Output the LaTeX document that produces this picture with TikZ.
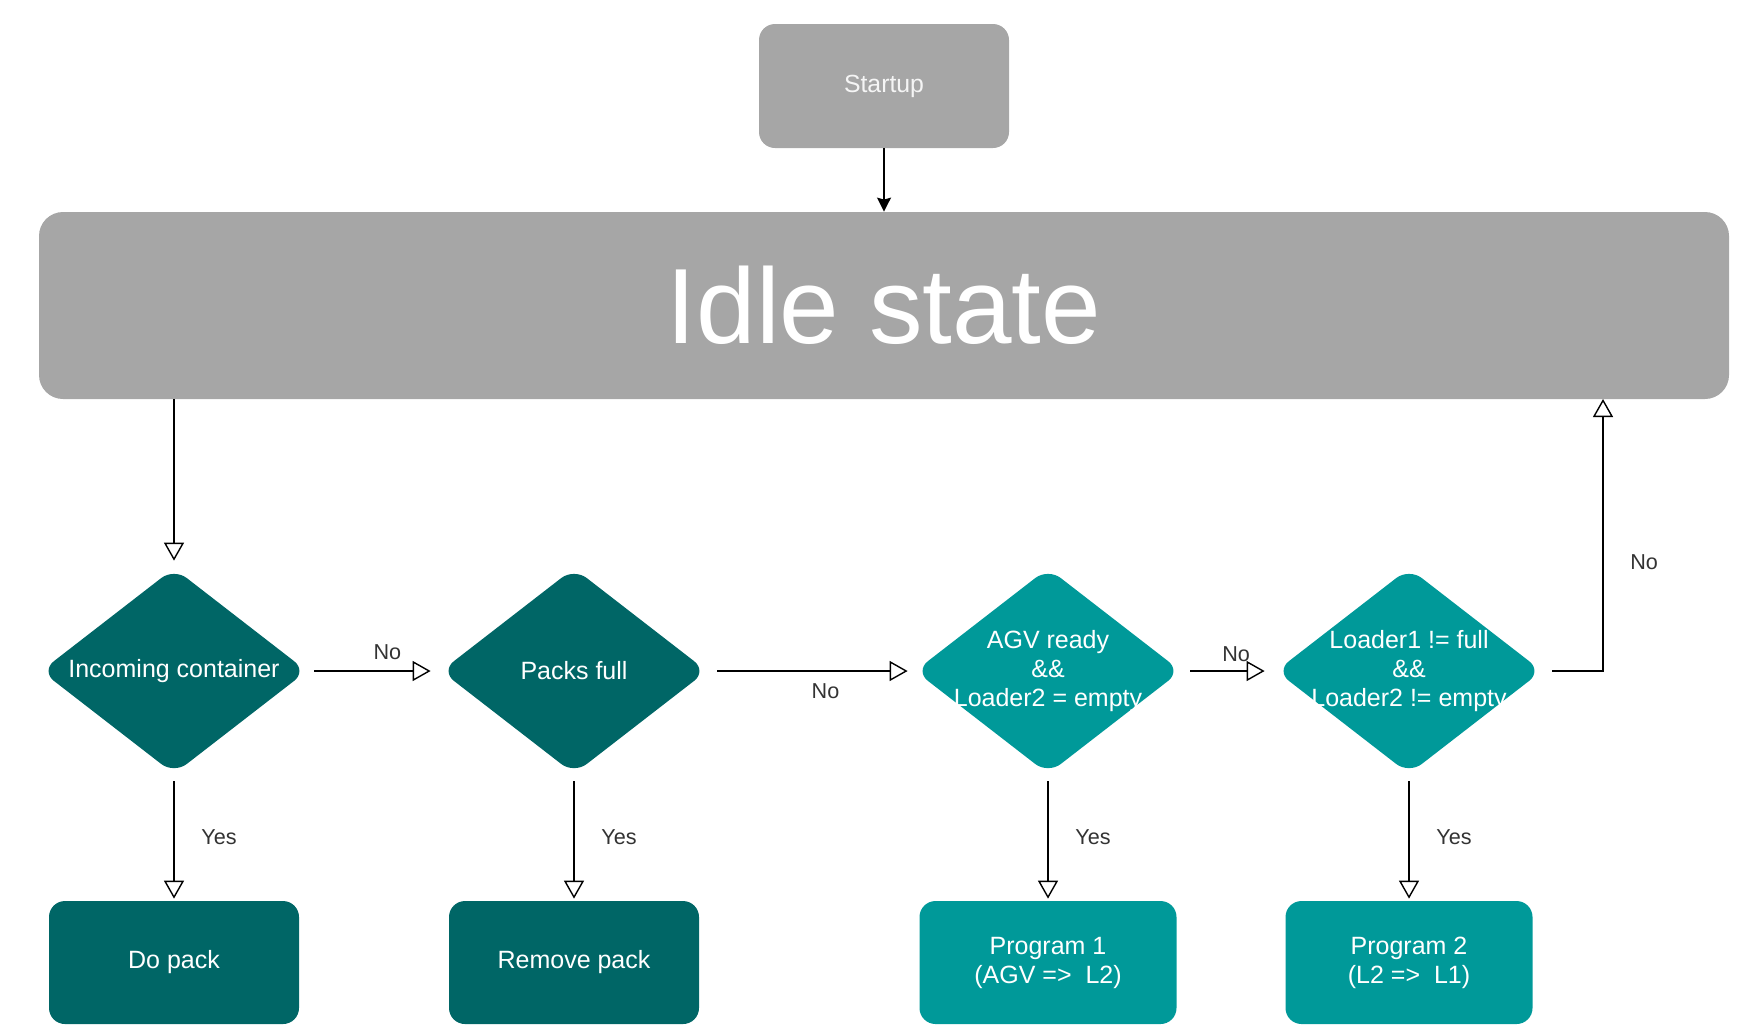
\documentclass[tikz,border=0pt]{standalone}
\usepackage{fontspec}
\setmainfont{Liberation Sans}
\usetikzlibrary{shapes.geometric,arrows.meta}
\definecolor{boxgray}{HTML}{A6A6A6}
\definecolor{darkteal}{HTML}{006666}
\definecolor{lightteal}{HTML}{009999}
\definecolor{labelgray}{HTML}{333333}
\begin{document}
\begin{tikzpicture}[x=0.5pt,y=-0.5pt,
  graybox/.style={rectangle,rounded corners=8pt,fill=boxgray,text=white},
  test/.style={diamond,rounded corners=8pt,inner sep=-12pt,minimum width=133pt,minimum height=103pt,text=white,align=center,font=\fontsize{12.5}{14.5}\selectfont},
  action/.style={rectangle,rounded corners=8pt,minimum height=61.5pt,text=white,align=center,font=\fontsize{12.5}{14.5}\selectfont},
  flow/.style={draw=black,line width=0.7pt,-{Triangle[open,width=10pt,length=9pt]}},
  lbl/.style={text=labelgray,font=\fontsize{10.8}{13}\selectfont}]
\useasboundingbox (0,0) rectangle (1748,1025);
\node[graybox,minimum width=125pt,minimum height=62pt,text=white!92!gray,font=\fontsize{12.4}{14}\selectfont] (startup) at (884,86) {\raisebox{-1.5pt}{Startup}};
\node[graybox,rounded corners=12pt,minimum width=845pt,minimum height=93.5pt,font=\fontsize{53.5}{60}\selectfont] (idle) at (884,305.5) {Idle state};
\node[test,fill=darkteal] (incoming) at (174,671) {Incoming container};
\node[test,fill=darkteal] (packs) at (574,671) {Packs full};
\node[test,fill=lightteal] (agv) at (1048,671) {AGV ready\\\&\&\\Loader2 = empty};
\node[test,fill=lightteal] (loader) at (1409,671) {Loader1 != full\\\&\&\\Loader2 != empty};
\node[action,fill=darkteal,minimum width=125pt] (dopack) at (174,962.5) {Do pack};
\node[action,fill=darkteal,minimum width=125pt] (remove) at (574,962.5) {Remove pack};
\node[action,fill=lightteal,minimum width=128.5pt] (prog1) at (1048,962.5) {Program 1\\(AGV =>\ \ L2)};
\node[action,fill=lightteal,minimum width=123.5pt] (prog2) at (1409,962.5) {Program 2\\(L2 =>\ \ L1)};
\coordinate (back) at (1603,399);
\draw[line width=0.7pt,-{Stealth[width=7pt,length=7pt,inset=1pt]}] (startup) -- (idle);
\draw[flow,shorten >=3.5pt] (idle.south -| incoming) -- (incoming.north);
\draw[flow,shorten <=3.5pt,shorten >=5pt] (incoming.east) -- node[lbl,above=2pt,pos=0.6] {No} (packs.west);
\draw[flow,shorten <=5pt,shorten >=3.5pt] (packs.east) -- node[lbl,below=2.5pt,pos=0.57] {No} (agv.west);
\draw[flow,shorten <=4.5pt,shorten >=5.5pt] (agv.east) -- node[lbl,above=1pt,pos=0.58] {No} (loader.west);
\draw[flow,shorten <=5pt] (loader.east) -| node[lbl,pos=0.7,right=10pt] {No} (back);
\draw[flow,shorten <=3.5pt,shorten >=1pt] (incoming.south) -- node[lbl,right=10pt] {Yes} (dopack.north);
\draw[flow,shorten <=3.5pt,shorten >=1pt] (packs.south) -- node[lbl,right=10pt] {Yes} (remove.north);
\draw[flow,shorten <=3.5pt,shorten >=1pt] (agv.south) -- node[lbl,right=10pt] {Yes} (prog1.north);
\draw[flow,shorten <=3.5pt,shorten >=1pt] (loader.south) -- node[lbl,right=10pt] {Yes} (prog2.north);
\end{tikzpicture}
\end{document}
